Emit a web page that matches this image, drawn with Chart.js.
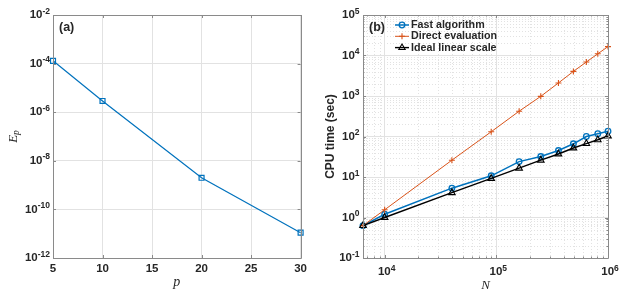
<!DOCTYPE html>
<html>
<head>
<meta charset="utf-8">
<script src="https://cdn.jsdelivr.net/npm/chart.js@4.4.0/dist/chart.umd.min.js"></script>
<style>
  html, body { margin: 0; padding: 0; background: #fff; }
  #wrap { position: relative; width: 623px; height: 294px; }
  .panel { position: absolute; top: 0; height: 294px; }
  #left { left: 0; width: 311px; }
  #right { left: 311px; width: 312px; }
</style>
</head>
<body>
<div id="wrap">
  <div class="panel" id="left"><canvas id="chartA" width="311" height="294"></canvas></div>
  <div class="panel" id="right"><canvas id="chartB" width="312" height="294"></canvas></div>
</div>
<script>
// (a) erreur en fonction de p
const pValues = [5, 10, 20, 30];
const errValues = [1.3e-4, 2.9e-6, 2.0e-9, 1.1e-11];
const pTicks = [5, 10, 15, 20, 25, 30];
const errTicks = [1e-2, 1e-4, 1e-6, 1e-8, 1e-10, 1e-12];

// (b) temps CPU en fonction de N
const nValues = [6400, 1e4, 4e4, 9e4, 1.6e5, 2.5e5, 3.6e5, 4.9e5, 6.4e5, 8.1e5, 1e6];
const fastTimes = [0.63, 1.2, 5.3, 10.7, 24, 32, 45, 66, 100, 117, 135];
const directTimes = [0.63, 1.55, 26, 131, 421, 980, 2100, 4050, 6900, 11000, 16600];
const idealTimes = [0.63, 1.0, 4.1, 9.2, 16.5, 26, 37, 52, 67, 83, 103];
const nTicks = [1e4, 1e5, 1e6];
const timeTicks = [1e-1, 1e0, 1e1, 1e2, 1e3, 1e4, 1e5];
const seriesNames = ['Fast algorithm', 'Direct evaluation', 'Ideal linear scale'];

const BLUE = '#0072BD', ORANGE = '#D95319';
const AXIS = '#8a8a8a', TXT = '#262626', GRID = '#e2e2e2';
const SANS = '"Liberation Sans", Arial, Helvetica, sans-serif';
const SERIF = '"Liberation Serif", "Times New Roman", serif';

// petites graduations des axes log
function minors(lo, hi) {
  const out = [];
  for (let d = Math.pow(10, Math.floor(Math.log10(lo))); d < hi; d *= 10) {
    for (let m = 2; m <= 9; m++) {
      const v = d * m;
      if (v > lo && v < hi) out.push(v);
    }
  }
  return out;
}

// "10" + exposant
function drawPow(ctx, v, x, y, align) {
  const e = String(Math.round(Math.log10(v)));
  ctx.font = 'bold 11.5px ' + SANS;
  const w1 = ctx.measureText('10').width;
  ctx.font = 'bold 8.5px ' + SANS;
  const w2 = ctx.measureText(e).width;
  const x0 = align === 'right' ? x - w1 - w2 : x - (w1 + w2) / 2;
  ctx.fillStyle = TXT;
  ctx.textAlign = 'left';
  ctx.textBaseline = 'middle';
  ctx.font = 'bold 11.5px ' + SANS;
  ctx.fillText('10', x0, y);
  ctx.textBaseline = 'alphabetic';
  ctx.font = 'bold 8.5px ' + SANS;
  ctx.fillText(e, x0 + w1, y - 1.5);
}

function drawMarker(ctx, style, x, y, color) {
  ctx.strokeStyle = color;
  ctx.beginPath();
  if (style === 'circle') {
    ctx.arc(x, y, 2.8, 0, Math.PI * 2);
  } else if (style === 'cross') {
    ctx.moveTo(x - 3, y); ctx.lineTo(x + 3, y);
    ctx.moveTo(x, y - 3); ctx.lineTo(x, y + 3);
  } else if (style === 'triangle') {
    ctx.moveTo(x, y - 3.6); ctx.lineTo(x + 3.2, y + 1.9); ctx.lineTo(x - 3.2, y + 1.9); ctx.closePath();
  }
  ctx.stroke();
}

function boxTicks(ctx, a, xs, ys, len, xScale, yScale) {
  xs.forEach(v => {
    const px = Math.round(xScale.getPixelForValue(v)) + 0.5;
    ctx.moveTo(px, a.bottom); ctx.lineTo(px, a.bottom - len);
    ctx.moveTo(px, a.top); ctx.lineTo(px, a.top + len);
  });
  ys.forEach(v => {
    const py = Math.round(yScale.getPixelForValue(v)) + 0.5;
    ctx.moveTo(a.left, py); ctx.lineTo(a.left + len, py);
    ctx.moveTo(a.right, py); ctx.lineTo(a.right - len, py);
  });
}

const frameA = {
  id: 'frameA',
  afterDatasetsDraw(chart) {
    const {ctx, chartArea: a, scales: {x, y}} = chart;
    ctx.save();
    ctx.strokeStyle = AXIS;
    ctx.lineWidth = 1;
    ctx.beginPath();
    ctx.rect(Math.round(a.left) + 0.5, Math.round(a.top) + 0.5, Math.round(a.right - a.left), Math.round(a.bottom - a.top));
    boxTicks(ctx, a, pTicks, errTicks, 3, x, y);
    ctx.stroke();
    errTicks.forEach(v => drawPow(ctx, v, a.left - 3, y.getPixelForValue(v), 'right'));
    // étiquette du panneau
    ctx.fillStyle = TXT;
    ctx.font = 'bold 12.5px ' + SANS;
    ctx.textAlign = 'left';
    ctx.textBaseline = 'middle';
    ctx.fillText('(a)', 59, 27.5);
    // titre y : E_p
    ctx.translate(13, (a.top + a.bottom) / 2);
    ctx.rotate(-Math.PI / 2);
    ctx.font = 'italic 13px ' + SERIF;
    const wE = ctx.measureText('E').width;
    ctx.font = 'italic 9.5px ' + SERIF;
    const wp = ctx.measureText('p').width;
    ctx.textBaseline = 'alphabetic';
    ctx.font = 'italic 13px ' + SERIF;
    ctx.fillText('E', -(wE + wp) / 2, 4);
    ctx.font = 'italic 9.5px ' + SERIF;
    ctx.fillText('p', -(wE + wp) / 2 + wE, 6);
    ctx.restore();
  }
};

const frameB = {
  id: 'frameB',
  beforeDatasetsDraw(chart) {
    const {ctx, chartArea: a, scales: {x, y}} = chart;
    ctx.save();
    ctx.strokeStyle = GRID;
    ctx.lineWidth = 1;
    ctx.setLineDash([1, 2]);
    ctx.beginPath();
    minors(6400, 1e6).forEach(v => {
      const px = Math.round(x.getPixelForValue(v)) + 0.5;
      ctx.moveTo(px, a.top); ctx.lineTo(px, a.bottom);
    });
    minors(1e-1, 1e5).forEach(v => {
      const py = Math.round(y.getPixelForValue(v)) + 0.5;
      ctx.moveTo(a.left, py); ctx.lineTo(a.right, py);
    });
    ctx.stroke();
    ctx.restore();
  },
  afterDatasetsDraw(chart) {
    const {ctx, chartArea: a, scales: {x, y}} = chart;
    ctx.save();
    ctx.strokeStyle = AXIS;
    ctx.lineWidth = 1;
    ctx.beginPath();
    ctx.rect(Math.round(a.left) + 0.5, Math.round(a.top) + 0.5, Math.round(a.right - a.left), Math.round(a.bottom - a.top));
    boxTicks(ctx, a, nTicks, timeTicks, 3, x, y);
    boxTicks(ctx, a, minors(6400, 1e6), minors(1e-1, 1e5), 1.5, x, y);
    ctx.stroke();
    timeTicks.forEach(v => drawPow(ctx, v, a.left - 3.5, y.getPixelForValue(v), 'right'));
    nTicks.forEach(v => drawPow(ctx, v, x.getPixelForValue(v) + 2, a.bottom + 14, 'center'));
    ctx.fillStyle = TXT;
    ctx.font = 'bold 12.5px ' + SANS;
    ctx.textAlign = 'left';
    ctx.textBaseline = 'middle';
    ctx.fillText('(b)', 58, 27.5);
    // légende
    const rowsY = [25, 36.3, 47.6];
    chart.data.datasets.forEach((ds, i) => {
      const yy = rowsY[i];
      ctx.strokeStyle = ds.borderColor;
      ctx.lineWidth = ds.borderWidth;
      ctx.beginPath();
      ctx.moveTo(84, yy); ctx.lineTo(98, yy);
      ctx.stroke();
      ctx.lineWidth = ds.pointBorderWidth;
      drawMarker(ctx, ds.pointStyle, 91, yy, ds.borderColor);
      ctx.fillStyle = TXT;
      ctx.font = 'bold 10.7px ' + SANS;
      ctx.textBaseline = 'middle';
      ctx.fillText(ds.label, 100, yy);
    });
    ctx.restore();
  }
};

function pts(xs, ys) { return xs.map((v, i) => ({x: v, y: ys[i]})); }

new Chart(document.getElementById('chartA'), {
  type: 'line',
  data: {
    datasets: [{
      data: pts(pValues, errValues),
      borderColor: BLUE, borderWidth: 1.2,
      pointStyle: 'rect', pointRadius: 3.5, pointBorderWidth: 1.2,
      pointBackgroundColor: 'rgba(0,0,0,0)', pointBorderColor: BLUE,
      tension: 0, clip: false
    }]
  },
  options: {
    responsive: false, animation: false,
    layout: { padding: { left: 0, right: 9, top: 15, bottom: 0 } },
    plugins: { legend: { display: false }, tooltip: { enabled: false } },
    scales: {
      x: {
        type: 'linear', min: 5, max: 30,
        afterBuildTicks: s => { s.ticks = pTicks.map(v => ({value: v})); },
        afterFit: s => { s.height = 36; },
        grid: { color: GRID, drawTicks: false },
        border: { display: false },
        ticks: { color: TXT, padding: 4, maxRotation: 0, font: { family: SANS, size: 11.5, weight: 'bold' } },
        title: { display: true, text: 'p', color: TXT, padding: { top: 0, bottom: 3 }, font: { family: SERIF, size: 14, style: 'italic' } }
      },
      y: {
        type: 'logarithmic', min: 1e-12, max: 1e-2,
        afterBuildTicks: s => { s.ticks = errTicks.map(v => ({value: v})); },
        afterFit: s => { s.width = 53; },
        grid: { color: GRID, drawTicks: false },
        border: { display: false },
        ticks: { display: false }
      }
    }
  },
  plugins: [frameA]
});

new Chart(document.getElementById('chartB'), {
  type: 'line',
  data: {
    datasets: [
      { label: seriesNames[0], data: pts(nValues, fastTimes), borderColor: BLUE, borderWidth: 1.5,
        pointStyle: 'circle', pointRadius: 2.8, pointBorderWidth: 1.3, order: 3 },
      { label: seriesNames[1], data: pts(nValues, directTimes), borderColor: ORANGE, borderWidth: 1,
        pointStyle: 'cross', pointRadius: 3, pointBorderWidth: 1.1, order: 2 },
      { label: seriesNames[2], data: pts(nValues, idealTimes), borderColor: '#000000', borderWidth: 1.4,
        pointStyle: 'triangle', pointRadius: 3.8, pointBorderWidth: 1.1, order: 1 }
    ].map(d => Object.assign(d, { pointBackgroundColor: 'rgba(0,0,0,0)', pointBorderColor: d.borderColor, tension: 0, clip: false }))
  },
  options: {
    responsive: false, animation: false,
    layout: { padding: { left: 0, right: 15, top: 15, bottom: 0 } },
    plugins: { legend: { display: false }, tooltip: { enabled: false } },
    scales: {
      x: {
        type: 'logarithmic', min: 6400, max: 1e6,
        afterBuildTicks: s => { s.ticks = nTicks.map(v => ({value: v})); },
        afterFit: s => { s.height = 36; },
        grid: { color: GRID, drawTicks: false },
        border: { display: false },
        ticks: { display: false },
        title: { display: true, text: 'N', color: TXT, padding: { top: 0, bottom: 1 }, font: { family: SERIF, size: 13, style: 'italic' } }
      },
      y: {
        type: 'logarithmic', min: 1e-1, max: 1e5,
        afterBuildTicks: s => { s.ticks = timeTicks.map(v => ({value: v})); },
        afterFit: s => { s.width = 52; },
        grid: { color: GRID, drawTicks: false },
        border: { display: false },
        ticks: { display: false },
        title: { display: true, text: 'CPU time (sec)', color: TXT, padding: { top: 12, bottom: 0 }, font: { family: SANS, size: 12, weight: 'bold' } }
      }
    }
  },
  plugins: [frameB]
});
</script>
</body>
</html>
